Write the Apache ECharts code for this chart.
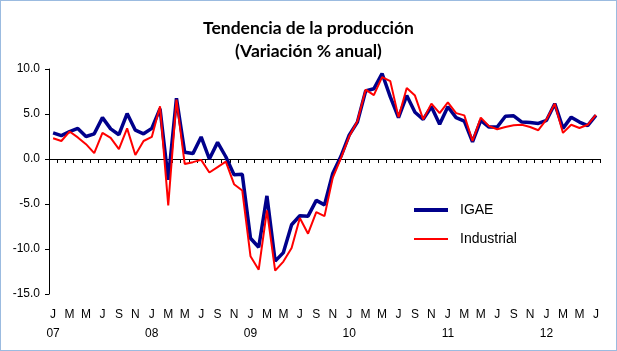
<!DOCTYPE html>
<html>
<head>
<meta charset="utf-8">
<script src="https://cdn.jsdelivr.net/npm/echarts@6/dist/echarts.min.js"></script>
<style>
    html, body { margin: 0; padding: 0; background: #fff; }
    #chart { width: 617px; height: 351px; box-sizing: border-box; border: 1px solid #9bbbe0; }
</style>
</head>
<body>
<div id="chart"></div>
<script>
    // meses y años (ene 2007 - jul 2012)
    const monthLetters = ['J', 'F', 'M', 'A', 'M', 'J', 'J', 'A', 'S', 'O', 'N', 'D']
    const years = ['07', '08', '09', '10', '11', '12']
    const lastYearMonths = 7

    // IGAE, variación % anual
    const igae = [
        2.9, 2.6, 3.05, 3.4, 2.5, 2.8, 4.6, 3.35, 2.7, 5.05, 3.2, 2.8,
        3.4, 5.6, -2.3, 6.75, 0.75, 0.6, 2.45, 0.0, 1.85, 0.25, -1.75, -1.7,
        -8.8, -9.8, -4.1, -11.35, -10.4, -7.3, -6.3, -6.35, -4.6, -5.1, -1.6, 0.3,
        2.65, 4.1, 7.55, 7.8, 9.5, 6.9, 4.6, 7.05, 5.2, 4.4, 5.8, 3.85,
        5.8, 4.6, 4.2, 1.9, 4.3, 3.55, 3.55, 4.75, 4.8, 4.1, 4.05, 3.95,
        4.3, 6.15, 3.4, 4.65, 4.1, 3.7, 4.85
    ]
    // Producción industrial, variación % anual
    const industrial = [
        2.3, 2.0, 3.05, 2.4, 1.65, 0.65, 2.9, 2.35, 1.1, 3.4, 0.45, 2.0,
        2.45, 5.85, -5.15, 6.6, -0.55, -0.35, -0.1, -1.5, -0.9, -0.3, -2.8, -3.5,
        -10.8, -12.3, -5.7, -12.4, -11.4, -9.9, -6.55, -8.3, -5.9, -6.35, -2.1, 0.1,
        2.5, 4.2, 7.7, 7.1, 9.1, 8.65, 4.65, 7.9, 7.05, 4.4, 6.15, 5.1,
        6.3, 5.1, 4.85, 2.0, 4.6, 3.65, 3.3, 3.55, 3.75, 3.8, 3.55, 3.2,
        4.4, 6.15, 2.9, 3.8, 3.45, 3.8, 4.9
    ]
    const yTicks = [-15, -10, -5, 0, 5, 10]

    const categories = []
    years.forEach((y, yi) => {
        const n = yi === years.length - 1 ? lastYearMonths : 12
        for (let m = 0; m < n; m++) {
            categories.push(m === 0 ? monthLetters[m] + '\n' + y : monthLetters[m])
        }
    })

    const target = document.getElementById('chart')
    const mChart = echarts.init(target)
    const option = {
        animation: false,
        title: {
            text: 'Tendencia de la producción\n(Variación % anual)',
            left: 'center',
            top: 16,
            padding: 0,
            textStyle: {
                fontFamily: 'Lato',
                fontSize: 17.5,
                fontWeight: 'bold',
                color: '#000',
                lineHeight: 23
            }
        },
        legend: {
            orient: 'vertical',
            left: 413,
            top: 202,
            padding: 0,
            itemWidth: 34,
            itemHeight: 14,
            itemGap: 15,
            textStyle: {
                fontFamily: 'Liberation Sans',
                fontSize: 14,
                color: '#000',
                padding: [0, 0, 0, 7]
            },
            data: [
                { name: 'IGAE', icon: 'path://M0,0L34,0L34,4L0,4Z' },
                { name: 'Industrial', icon: 'path://M0,0L34,0L34,2L0,2Z' }
            ]
        },
        grid: {
            left: 48,
            right: 16,
            top: 68,
            bottom: 56,
            containLabel: false
        },
        // eje x en cero: solo línea y marcas
        xAxis: [
            {
                type: 'category',
                data: categories,
                boundaryGap: true,
                axisLine: { onZero: true, lineStyle: { color: '#000', width: 1 } },
                axisTick: { show: true, interval: 0, length: 4, lineStyle: { color: '#000' } },
                axisLabel: { show: false },
                splitLine: { show: false }
            },
            // etiquetas abajo
            {
                type: 'category',
                data: categories,
                boundaryGap: true,
                position: 'bottom',
                axisLine: { show: false, onZero: false },
                axisTick: { show: false },
                axisLabel: {
                    interval: 1,
                    margin: 11,
                    fontFamily: 'Liberation Sans',
                    fontSize: 12,
                    color: '#000',
                    lineHeight: 19
                },
                splitLine: { show: false }
            }
        ],
        yAxis: {
            type: 'value',
            min: yTicks[0],
            max: yTicks[yTicks.length - 1],
            interval: 5,
            axisLine: { show: true, lineStyle: { color: '#000' } },
            axisTick: { show: true, length: 4, lineStyle: { color: '#000' } },
            axisLabel: {
                margin: 9,
                fontFamily: 'Liberation Sans',
                fontSize: 12,
                color: '#000',
                formatter: v => v.toFixed(1)
            },
            splitLine: { show: false }
        },
        series: [
            {
                name: 'IGAE',
                type: 'line',
                xAxisIndex: 0,
                symbol: 'none',
                color: '#00008b',
                lineStyle: { color: '#00008b', width: 3.5 },
                data: igae,
                z: 2
            },
            {
                name: 'Industrial',
                type: 'line',
                xAxisIndex: 0,
                symbol: 'none',
                color: '#ff0000',
                lineStyle: { color: '#ff0000', width: 2 },
                data: industrial,
                z: 3
            }
        ]
    }
    mChart.setOption(option)
    window.addEventListener('resize', function() {
        mChart.resize()
    })
</script>
</body>
</html>
